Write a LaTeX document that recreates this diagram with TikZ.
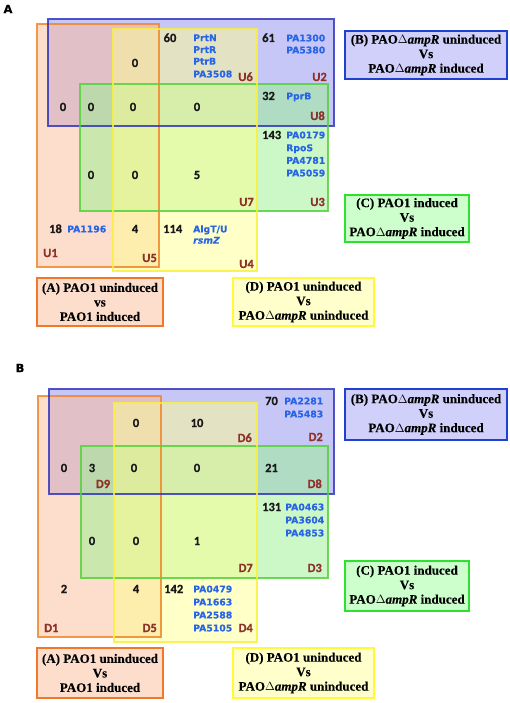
\documentclass[tikz,border=0pt]{standalone}
\usepackage{fontspec}
\setmainfont{Liberation Serif}[BoldFeatures={FakeBold=0.3},BoldItalicFeatures={FakeBold=0.3}]
\newfontfamily\numfont{Carlito}[BoldFeatures={FakeBold=0.7}]
\newfontfamily\genefont{DejaVu Sans}[BoldFeatures={FakeBold=0.4},BoldItalicFeatures={FakeBold=0.4}]
\definecolor{fO}{RGB}{251,187,151}
\definecolor{fB}{RGB}{144,144,240}
\definecolor{fG}{RGB}{153,241,145}
\definecolor{fY}{RGB}{255,255,145}
\definecolor{lO}{RGB}{240,135,45}
\definecolor{lB}{RGB}{50,55,190}
\definecolor{lG}{RGB}{85,210,60}
\definecolor{lY}{RGB}{250,240,60}
\definecolor{bxO}{RGB}{253,222,204}
\definecolor{bxB}{RGB}{208,208,250}
\definecolor{bxG}{RGB}{204,255,204}
\definecolor{bxY}{RGB}{255,255,204}
\definecolor{bsO}{RGB}{240,120,40}
\definecolor{bsB}{RGB}{32,64,208}
\definecolor{bsG}{RGB}{48,224,48}
\definecolor{bsY}{RGB}{255,248,60}
\definecolor{genecol}{RGB}{40,100,230}
\definecolor{regcol}{RGB}{140,50,40}
\definecolor{numcol}{RGB}{25,25,25}
\tikzset{
  num/.style={font=\numfont\bfseries\fontsize{12.5}{14}\selectfont, text=numcol, inner sep=0, anchor=base},
  numw/.style={num, anchor=base west},
  gene/.style={font=\genefont\bfseries\fontsize{9.3}{11}\selectfont, text=genecol, inner sep=0, anchor=base west},
  reg/.style={font=\numfont\bfseries\fontsize{12.5}{14}\selectfont, text=regcol, inner sep=0, anchor=base east},
  regw/.style={reg, anchor=base west},
  regc/.style={reg, anchor=base},
  vfill/.style={fill opacity=0.5},
  vline/.style={line width=1.5pt, draw opacity=0.85},
  lbox/.style={line width=2pt, align=center, inner sep=0pt, font=\bfseries\fontsize{13}{14.5}\selectfont, text=black},
  panel/.style={font=\genefont\bfseries\fontsize{11.5}{13}\selectfont, inner sep=0},
}
\begin{document}
\begin{tikzpicture}[x=1pt,y=-1pt]
\useasboundingbox (0,0) rectangle (510,703);
% ================= Panel A =================
\node[panel] (pA) at (8,9) {A};
\fill[fB, vfill] (48,19) rectangle (334,126);
\fill[fO, vfill] (37,24) rectangle (159,267);
\fill[fG, vfill] (80,84) rectangle (328,211);
\fill[fY, vfill] (113,29) rectangle (257,271);
\draw[lO, vline] (37,24) rectangle (159,267);
\draw[lB, vline] (48,19) rectangle (334,126);
\draw[lG, vline] (80,84) rectangle (328,211);
\draw[lY, vline] (113,29) rectangle (257,271);
% numbers
\node[num] (a60) at (170,42) {60};
\node[num] (a0a) at (135,67) {0};
\node[num] (a0b) at (63,111) {0};
\node[num] (a0c) at (91,111) {0};
\node[num] (a0d) at (133,111) {0};
\node[num] (a0e) at (197,111) {0};
\node[num] (a0f) at (91,179) {0};
\node[num] (a0g) at (135,179) {0};
\node[num] (a5) at (197,179) {5};
\node[num] (a4) at (135,233) {4};
\node[numw] (a61) at (262,42) {61};
\node[numw] (a32) at (262,100) {32};
\node[numw] (a143) at (262,139) {143};
\node[numw] (a18) at (49,233) {18};
\node[numw] (a114) at (163,233) {114};
% genes
\node[gene] (gA1) at (193,41.2) {PrtN};
\node[gene] (gA2) at (193,53) {PrtR};
\node[gene] (gA3) at (193,64.6) {PtrB};
\node[gene] (gA4) at (193,77.4) {PA3508};
\node[gene] (gA5) at (286,41.4) {PA1300};
\node[gene] (gA6) at (286,53.4) {PA5380};
\node[gene] (gA7) at (286,99.4) {PprB};
\node[gene] (gA8) at (286,138.4) {PA0179};
\node[gene] (gA9) at (286,151.2) {RpoS};
\node[gene] (gA10) at (286,163.8) {PA4781};
\node[gene] (gA11) at (286,176.4) {PA5059};
\node[gene] (gA12) at (67,232.4) {PA1196};
\node[gene] (gA13) at (193,232.4) {AlgT/U};
\node[gene] (gA14) at (193,243.6) {\itshape rsmZ};
% region labels
\node[reg] (U6) at (253,81) {U6};
\node[reg] (U2) at (327,81) {U2};
\node[reg] (U8) at (325,120) {U8};
\node[reg] (U7) at (254,206) {U7};
\node[reg] (U3) at (325,206) {U3};
\node[regw] (U1) at (43,257) {U1};
\node[reg] (U5) at (157,262) {U5};
\node[reg] (U4) at (254,268) {U4};
% legend boxes
\node[lbox, draw=bsB, fill=bxB, minimum width=162pt, minimum height=48pt] (LBa) at (426,55)
  {(B) PAO$\Delta$\textit{ampR} uninduced\\Vs\\PAO$\Delta$\textit{ampR} induced};
\node[lbox, draw=bsG, fill=bxG, minimum width=124pt, minimum height=47pt] (LCa) at (407,218.5)
  {(C) PAO1 induced\\Vs\\PAO$\Delta$\textit{ampR} induced};
\node[lbox, draw=bsO, fill=bxO, minimum width=126pt, minimum height=48pt] (LAa) at (100,302)
  {(A) PAO1 uninduced\\vs\\PAO1 induced};
\node[lbox, draw=bsY, fill=bxY, minimum width=141pt, minimum height=48pt] (LDa) at (303.5,302)
  {(D) PAO1 uninduced\\Vs\\PAO$\Delta$\textit{ampR} uninduced};
% ================= Panel B =================
\node[panel] (pB) at (20,368) {B};
\fill[fB, vfill] (49,389) rectangle (334,494);
\fill[fO, vfill] (38,396) rectangle (161,637);
\fill[fG, vfill] (81,446) rectangle (328,578);
\fill[fY, vfill] (114,403) rectangle (257,642);
\draw[lO, vline] (38,396) rectangle (161,637);
\draw[lB, vline] (49,389) rectangle (334,494);
\draw[lG, vline] (81,446) rectangle (328,578);
\draw[lY, vline] (114,403) rectangle (257,642);
% numbers
\node[numw] (b70) at (265,405) {70};
\node[num] (b0a) at (136,427) {0};
\node[num] (b10) at (197,427) {10};
\node[num] (b0b) at (64,472) {0};
\node[num] (b3) at (92,472) {3};
\node[num] (b0c) at (134,472) {0};
\node[num] (b0d) at (197,472) {0};
\node[numw] (b21) at (265,472) {21};
\node[numw] (b131) at (262,511) {131};
\node[num] (b0e) at (92,545) {0};
\node[num] (b0f) at (136,545) {0};
\node[num] (b1) at (197,545) {1};
\node[num] (b2) at (64,593) {2};
\node[num] (b4) at (136,593) {4};
\node[numw] (b142) at (164,593) {142};
% genes
\node[gene] (gB1) at (284,404.4) {PA2281};
\node[gene] (gB2) at (284,417.4) {PA5483};
\node[gene] (gB3) at (285,510.4) {PA0463};
\node[gene] (gB4) at (285,523.4) {PA3604};
\node[gene] (gB5) at (285,536.4) {PA4853};
\node[gene] (gB6) at (193,592.4) {PA0479};
\node[gene] (gB7) at (193,605.4) {PA1663};
\node[gene] (gB8) at (193,618.4) {PA2588};
\node[gene] (gB9) at (193,631.4) {PA5105};
% region labels
\node[reg] (D6) at (252,442) {D6};
\node[reg] (D2) at (323,441) {D2};
\node[regc] (D9) at (103,488) {D9};
\node[reg] (D8) at (322,488) {D8};
\node[reg] (D7) at (253,572) {D7};
\node[reg] (D3) at (322,572) {D3};
\node[regw] (D1) at (44,632) {D1};
\node[reg] (D5) at (157,632) {D5};
\node[reg] (D4) at (253,632) {D4};
% legend boxes
\node[lbox, draw=bsB, fill=bxB, minimum width=162pt, minimum height=51pt] (LBb) at (426,414.5)
  {(B) PAO$\Delta$\textit{ampR} uninduced\\Vs\\PAO$\Delta$\textit{ampR} induced};
\node[lbox, draw=bsG, fill=bxG, minimum width=124pt, minimum height=50pt] (LCb) at (407,586)
  {(C) PAO1 induced\\Vs\\PAO$\Delta$\textit{ampR} induced};
\node[lbox, draw=bsO, fill=bxO, minimum width=126pt, minimum height=50pt] (LAb) at (100,673)
  {(A) PAO1 uninduced\\Vs\\PAO1 induced};
\node[lbox, draw=bsY, fill=bxY, minimum width=141pt, minimum height=50pt] (LDb) at (303.5,673)
  {(D) PAO1 uninduced\\Vs\\PAO$\Delta$\textit{ampR} uninduced};
\end{tikzpicture}
\end{document}
